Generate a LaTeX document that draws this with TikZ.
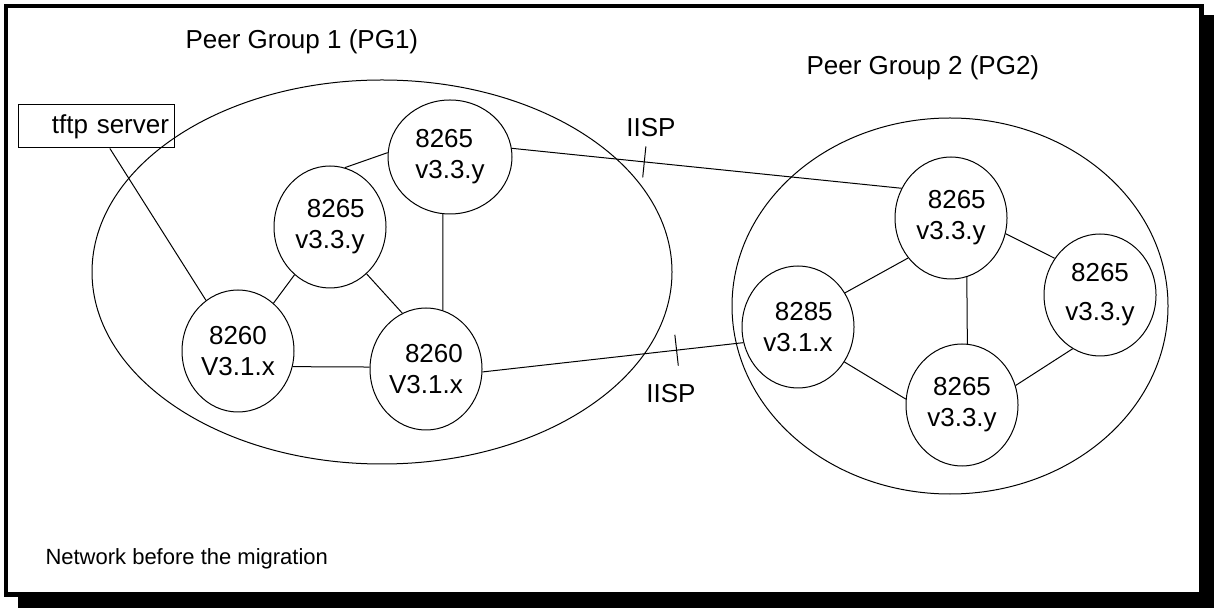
\documentclass[tikz,border=0pt]{standalone}
\usepackage{fontspec}
\setmainfont{Liberation Sans}
\usetikzlibrary{shapes.geometric}

\begin{document}
\begin{tikzpicture}[x=0.5pt,y=-0.5pt,line width=0.5pt]
    \tikzset{switch/.style= {draw, ellipse
    , inner sep=0pt
    , minimum width=56pt
    , minimum height=61pt
    , align=center
      },
    group/.style= {draw, ellipse, inner sep=0pt},
    server/.style= {draw, rectangle
    , inner xsep=2.5pt, inner ysep=0pt
    , text width=73pt, minimum height=21.5pt
    , align=right
      },
    tag/.style= {anchor=west, inner sep=0pt},
    tick/.style= {sloped, rectangle, inner sep=0pt
    , minimum width=0pt, minimum height=15pt
      },
    every node/.append style={font=\fontsize{13pt}{15.6pt}\selectfont}
    }

\useasboundingbox (0,0) rectangle (1214,608);
% frame with its shadow
\fill (18,15) rectangle (1214,608);
\draw[line width=2.25pt, fill=white] (6,6) rectangle (1201.5,594.5);

\node [group, minimum width=290pt, minimum height=192pt] (pgone) at (382,272) {};
\node [group, minimum width=218pt, minimum height=188pt] (pgtwo) at (950,306) {};
\node [tag] (pgonelabel) at (185,42) {Peer Group 1 (PG1)};
\node [tag] (pgtwolabel) at (806,68) {Peer Group 2 (PG2)};

\node [server] (tftp) at (96,126.5) {tftp server};

\node [switch, minimum width=62pt, minimum height=57pt, align=left] (a1) at (450,157) {8265\\v3.3.y};
\node [switch, align=right] (a2) at (330,227) {8265\\v3.3.y};
\node [switch] (a3) at (238,351) {8260\\V3.1.x};
\node [switch, align=right] (a4) at (426,369) {8260\\V3.1.x};

\node [switch, align=right] (b1) at (798,327) {8285\\v3.1.x};
\node [switch, align=right] (b2) at (951,218) {8265\\v3.3.y};
\node [switch] (b3) at (1100,295) {8265\\[4pt]v3.3.y};
\node [switch] (b4) at (962,405) {8265\\v3.3.y};

\node (iispone) at (651,128) {IISP};
\node (iisptwo) at (671,394) {IISP};

\node [tag, font=\fontsize{11pt}{13pt}\selectfont] (caption) at (45,559) {Network before the migration};

% links inside PG1
\path[draw] (tftp) -- (a3);
\path[draw] (a2.76) -- (a1.176);
\path[draw] (a3) -- (a2);
\path[draw] (a2.-52) -- (a4.113);
\path[draw] (a1.-97) -- (a4.74);
\path[draw] (a3.-16) -- (a4.178);

% IISP links between the groups
\path[draw] (a1.8) -- node[tick, pos=0.34] (tickone) {} (b2.149);
\path[draw] (a4.-3) -- node[tick, pos=0.744] (ticktwo) {} (b1.196);
\draw (tickone.north) -- (tickone.south);
\draw (ticktwo.north) -- (ticktwo.south);

% links inside PG2
\path[draw] (b1.36) -- (b2.223);
\path[draw] (b1.-37) -- (b4.174);
\path[draw] (b2.-75) -- (b4.85);
\path[draw] (b2.-16) -- (b3.141);
\path[draw] (b4.20) -- (b3.-117);
\end{tikzpicture}
\end{document}
